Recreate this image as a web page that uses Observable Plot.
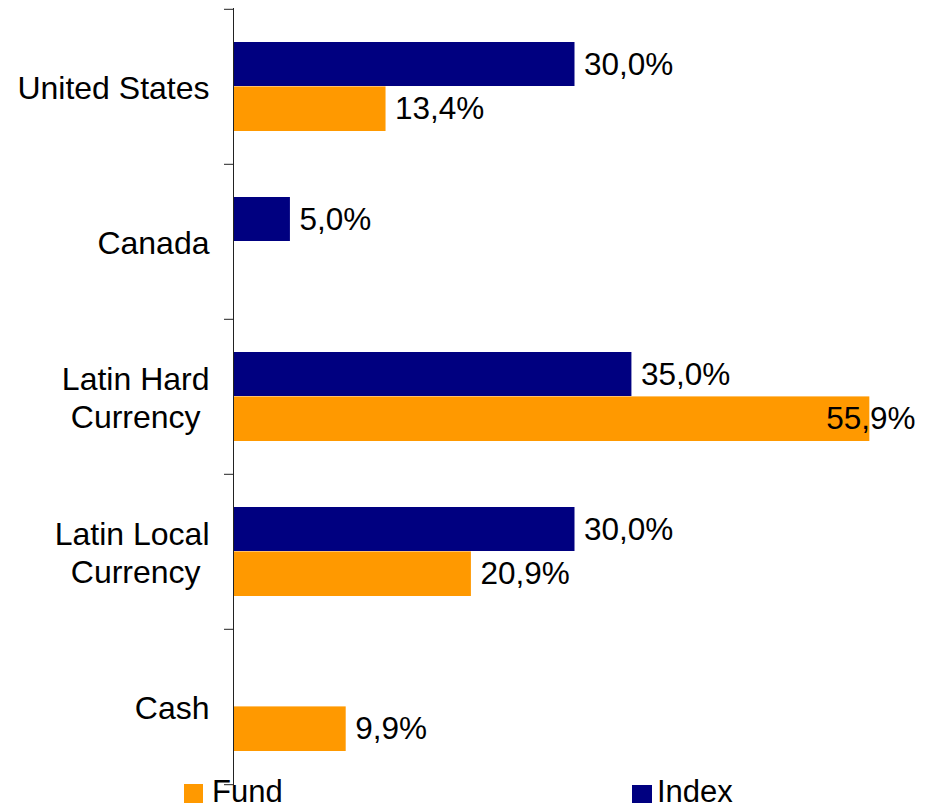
<!DOCTYPE html>
<html><head><meta charset="utf-8">
<script src="https://cdn.jsdelivr.net/npm/d3@7"></script>
<script src="https://cdn.jsdelivr.net/npm/@observablehq/plot@0.6"></script>
<style>
body{margin:0;background:#fff;}
#wrap{position:relative;width:928px;height:808px;font-family:"Liberation Sans",Arial,sans-serif;overflow:hidden;}
#wrap svg{position:absolute;left:0;top:0;}
.leg{position:absolute;font-size:31px;line-height:24px;height:24px;color:#000;white-space:nowrap;}
.sw{position:absolute;}
</style></head><body><div id="wrap"></div>
<script>
const categories = ["United States","Canada","Latin Hard Currency","Latin Local Currency","Cash"];
const axisLabels = ["United States","Canada","Latin Hard\nCurrency\u00a0","Latin Local\nCurrency\u00a0","Cash"];
const fundValues = [13.4, null, 55.9, 20.9, 9.9];
const indexValues = [30.0, 5.0, 35.0, 30.0, null];
const seriesNames = ["Fund","Index"];
const seriesColors = ["#FF9900","#000080"];

const fmt = v => d3.format(".1f")(v).replace(".", ",") + "%";
const fundRows = categories.map((c,i)=>({category:c, value:fundValues[i], series:seriesNames[0]})).filter(d=>d.value!=null);
const indexRows = categories.map((c,i)=>({category:c, value:indexValues[i], series:seriesNames[1]})).filter(d=>d.value!=null);

const H = 785, MT = 8;
const step = (H - MT) / categories.length;
const font = '"Liberation Sans", Arial, sans-serif';

const plot = Plot.plot({
  width: 928, height: H,
  marginTop: MT, marginBottom: 0, marginLeft: 233, marginRight: 12,
  style: {fontFamily: font, fontSize: "31px", color: "#000", background: "transparent", overflow: "visible"},
  x: {domain: [0, 60], axis: null},
  y: {domain: categories, padding: 0},
  marks: [
    Plot.barX(indexRows, {x: "value", y: "category", fill: seriesColors[1], insetTop: 33, insetBottom: step - 77.4}),
    Plot.barX(fundRows, {x: "value", y: "category", fill: seriesColors[0], insetTop: 77.4, insetBottom: 33}),
    Plot.text(indexRows, {x: "value", y: "category", text: d => fmt(d.value), textAnchor: "start", dx: 9, dy: -22.5, fontSize: 31.5, fill: "#000"}),
    Plot.text(fundRows.filter(d => d.value < 50), {x: "value", y: "category", text: d => fmt(d.value), textAnchor: "start", dx: 9, dy: 22, fontSize: 31.5, fill: "#000"}),
    Plot.text(fundRows.filter(d => d.value >= 50), {y: "category", text: d => fmt(d.value), frameAnchor: "right", textAnchor: "end", dx: -1, dy: 22, fontSize: 31.5, fill: "#000"}),
    Plot.ruleX([0], {stroke: "#222"}),
    Plot.ruleY(categories, {y: d => d, x1: 0, x2: 0, insetLeft: -9, dy: -step / 2, stroke: "#222"}),
    Plot.ruleY(categories.slice(-1), {y: d => d, x1: 0, x2: 0, insetLeft: -9, dy: step / 2, stroke: "#222"}),
    Plot.axisY({tickSize: 0, tickPadding: 24, tickFormat: d => axisLabels[categories.indexOf(d)], lineHeight: 1.2, fontSize: 32, label: null})
  ]
});

const wrap = document.getElementById("wrap");
wrap.appendChild(plot);

const legendItems = [
  {name: seriesNames[0], color: seriesColors[0], sx: 184, sy: 784, sw: 19, sh: 19, tx: 212},
  {name: seriesNames[1], color: seriesColors[1], sx: 632, sy: 785, sw: 20, sh: 18, tx: 657}
];
for (const it of legendItems) {
  const s = document.createElement("div");
  s.className = "sw";
  Object.assign(s.style, {left: it.sx + "px", top: it.sy + "px", width: it.sw + "px", height: it.sh + "px", background: it.color});
  wrap.appendChild(s);
  const t = document.createElement("div");
  t.className = "leg";
  t.textContent = it.name;
  Object.assign(t.style, {left: it.tx + "px", top: "780px"});
  wrap.appendChild(t);
}
</script></body></html>
